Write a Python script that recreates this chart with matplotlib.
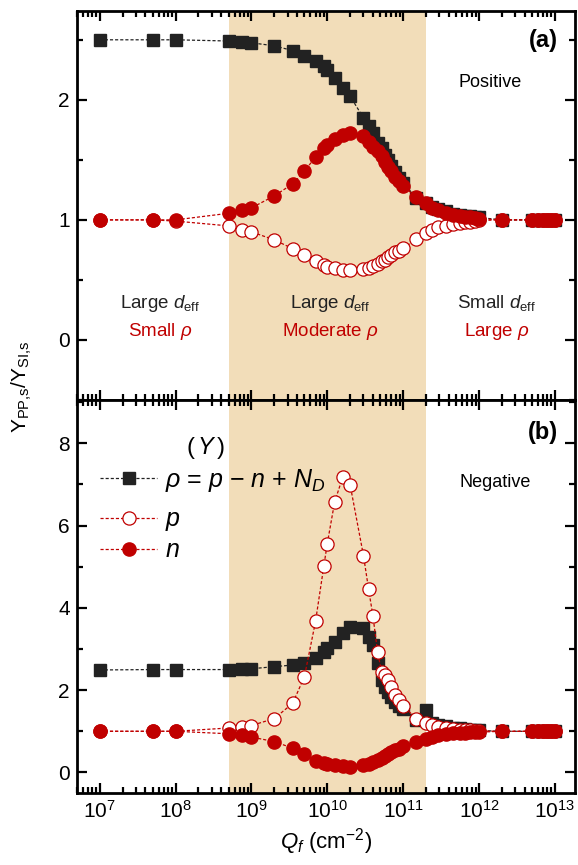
import numpy as np
import matplotlib
matplotlib.use("Agg")
import matplotlib.pyplot as plt
from matplotlib.ticker import MultipleLocator, FixedLocator, LogFormatterMathtext, NullFormatter
from matplotlib.lines import Line2D

plt.rcParams['font.family'] = ['Liberation Sans', 'DejaVu Sans']
plt.rcParams['mathtext.fontset'] = 'custom'
plt.rcParams['mathtext.rm'] = 'Liberation Sans'
plt.rcParams['mathtext.it'] = 'Liberation Sans:italic'
plt.rcParams['mathtext.bf'] = 'Liberation Sans:bold'

# fixed charge density Qf (cm^-2), shared by all series
qf = [1e7, 5e7, 1e8, 5e8, 7.5e8, 1e9, 2e9, 3.5e9, 5e9, 7e9, 9e9, 1e10, 1.25e10,
      1.6e10, 2e10, 3e10, 3.5e10, 4e10, 4.6e10, 5.2e10, 5.8e10, 6.3e10, 7e10,
      7.8e10, 8.7e10, 1e11, 1.5e11, 2e11, 2.4e11, 2.9e11, 3.7e11, 4.6e11,
      5.6e11, 6.5e11, 7.6e11, 8.9e11, 1e12, 2e12, 5e12, 6e12, 7e12, 8e12, 9e12, 1e13]
decades = [1e7, 1e8, 1e9, 1e10, 1e11, 1e12, 1e13]

# (a) positive
rho_a = [2.50, 2.50, 2.50, 2.49, 2.48, 2.475, 2.45, 2.41, 2.365, 2.32, 2.28, 2.25, 2.18,
         2.10, 2.03, 1.85, 1.78, 1.72, 1.64, 1.60, 1.54, 1.50, 1.45,
         1.40, 1.35, 1.31, 1.18, 1.14, 1.11, 1.09, 1.07, 1.05,
         1.04, 1.035, 1.03, 1.02, 1.02, 1.0, 1.0, 1.0, 1.0, 1.0, 1.0, 1.0]
p_a = [1.0, 1.0, 0.99, 0.95, 0.917, 0.90, 0.834, 0.76, 0.71, 0.655, 0.627, 0.61, 0.60,
       0.585, 0.58, 0.59, 0.60, 0.62, 0.635, 0.655, 0.67, 0.69, 0.71,
       0.73, 0.745, 0.765, 0.84, 0.89, 0.917, 0.94, 0.95, 0.964,
       0.975, 0.98, 0.983, 0.99, 0.995, 1.0, 1.0, 1.0, 1.0, 1.0, 1.0, 1.0]
n_a = [1.0, 1.0, 1.0, 1.055, 1.08, 1.10, 1.20, 1.30, 1.405, 1.525, 1.60, 1.62, 1.67,
       1.71, 1.72, 1.70, 1.65, 1.61, 1.57, 1.53, 1.48, 1.44, 1.41,
       1.36, 1.32, 1.28, 1.19, 1.14, 1.10, 1.08, 1.055, 1.04,
       1.03, 1.025, 1.02, 1.015, 1.01, 1.0, 1.0, 1.0, 1.0, 1.0, 1.0, 1.0]

# (b) negative
rho_b = [2.49, 2.50, 2.50, 2.50, 2.51, 2.52, 2.57, 2.61, 2.65, 2.77, 2.93, 3.02, 3.18,
         3.38, 3.54, 3.50, 3.30, 3.10, 2.65, 2.24, 2.08, 1.95, 1.84,
         1.72, 1.62, 1.55, 1.27, 1.51, 1.20, 1.16, 1.12, 1.09,
         1.07, 1.05, 1.04, 1.03, 1.02, 1.0, 1.0, 1.0, 1.0, 1.0, 1.0, 1.0]
p_b = [1.0, 1.0, 1.0, 1.08, 1.11, 1.14, 1.31, 1.68, 2.33, 3.67, 5.01, 5.56, 6.57,
       7.18, 6.99, 5.27, 4.46, 3.80, 2.93, 2.45, 2.37, 2.24, 2.08,
       1.89, 1.75, 1.61, 1.31, 1.21, 1.15, 1.11, 1.07, 1.05,
       1.04, 1.03, 1.02, 1.01, 1.01, 1.0, 1.0, 1.0, 1.0, 1.0, 1.0, 1.0]
n_b = [1.0, 1.0, 1.0, 0.94, 0.90, 0.86, 0.75, 0.59, 0.46, 0.29, 0.23, 0.21, 0.17,
       0.15, 0.13, 0.17, 0.21, 0.25, 0.31, 0.35, 0.41, 0.46, 0.50,
       0.54, 0.58, 0.64, 0.74, 0.82, 0.86, 0.90, 0.94, 0.95,
       0.96, 0.97, 0.975, 0.98, 0.98, 1.0, 1.0, 1.0, 1.0, 1.0, 1.0, 1.0]

BLACK = '#222222'
RED = '#C00000'
SHADE = '#F2DDB9'
dash = (0, (2.5, 1.6))

fig = plt.figure(figsize=(5.78, 8.65), dpi=100)
ax_a = fig.add_axes([0.133, 0.5376, 0.862, 0.4497])
ax_b = fig.add_axes([0.133, 0.0832, 0.862, 0.4544], sharex=ax_a)


def draw(ax, rho, p, n):
    ax.axvspan(5e8, 2e11, color=SHADE, lw=0, zorder=0)
    ax.plot(qf, rho, ls=dash, lw=0.9, color=BLACK, marker='s', ms=8.5,
            mfc=BLACK, mec=BLACK, zorder=2)
    ax.plot(qf, p, ls=dash, lw=0.9, color=RED, marker='o', ms=9.5,
            mfc='white', mec=RED, mew=0.9, zorder=3)
    ax.plot(qf, n, ls=dash, lw=0.9, color=RED, marker='o', ms=9.5,
            mfc=RED, mec=RED, zorder=4)
    ax.set_xscale('log')
    ax.set_xlim(5e6, 1.85e13)
    ax.xaxis.set_major_locator(FixedLocator(decades))
    ax.xaxis.set_major_formatter(LogFormatterMathtext())
    minors = [m * d for d in [1e6] + decades for m in range(2, 10)]
    ax.xaxis.set_minor_locator(FixedLocator(minors))
    ax.xaxis.set_minor_formatter(NullFormatter())
    ax.tick_params(which='both', direction='in', top=True, right=True,
                   width=1.6, labelsize=15, pad=5)
    ax.tick_params(which='major', length=7)
    ax.tick_params(which='minor', length=4)
    for s in ax.spines.values():
        s.set_linewidth(2.0)


draw(ax_a, rho_a, p_a, n_a)
draw(ax_b, rho_b, p_b, n_b)

ax_a.set_ylim(-0.5, 2.74)
ax_a.yaxis.set_major_locator(MultipleLocator(1))
ax_a.yaxis.set_minor_locator(MultipleLocator(0.5))
ax_a.tick_params(labelbottom=False)

ax_b.set_ylim(-0.5, 9.05)
ax_b.yaxis.set_major_locator(MultipleLocator(2))
ax_b.yaxis.set_minor_locator(MultipleLocator(1))
ax_b.set_xlabel(r'$Q_f$ (cm$^{-2}$)', fontsize=16, labelpad=3)

fig.text(0.038, 0.553, r'$\mathregular{Y_{PP{,}s}/Y_{SI{,}s}}$', rotation=90,
         fontsize=15, ha='center', va='center')

# panel (a) annotations
ax_a.text(0.965, 0.925, '(a)', transform=ax_a.transAxes, fontsize=17,
          fontweight='bold', ha='right', va='center')
ax_a.text(0.83, 0.815, 'Positive', transform=ax_a.transAxes, fontsize=13,
          ha='center', va='center')
for xc, top, bot in [(0.167, 'Large', 'Small'), (0.508, 'Large', 'Moderate'),
                     (0.843, 'Small', 'Large')]:
    ax_a.text(xc, 0.249, top + r' $d_{\rm eff}$', transform=ax_a.transAxes,
              fontsize=13.5, ha='center', va='center', color=BLACK)
    ax_a.text(xc, 0.175, bot + r' $\rho$', transform=ax_a.transAxes,
              fontsize=13.5, ha='center', va='center', color=RED)

# panel (b) annotations
ax_b.text(0.965, 0.916, '(b)', transform=ax_b.transAxes, fontsize=17,
          fontweight='bold', ha='right', va='center')
ax_b.text(0.84, 0.789, 'Negative', transform=ax_b.transAxes, fontsize=13,
          ha='center', va='center')
ax_b.text(0.257, 0.878, r'($\,Y\,$)', transform=ax_b.transAxes, fontsize=17,
          ha='center', va='center')

h_rho = Line2D([], [], ls=dash, lw=0.9, color=BLACK, marker='s', ms=8.5,
               mfc=BLACK, mec=BLACK)
h_p = Line2D([], [], ls=dash, lw=0.9, color=RED, marker='o', ms=9.5,
             mfc='white', mec=RED, mew=0.9)
h_n = Line2D([], [], ls=dash, lw=0.9, color=RED, marker='o', ms=9.5,
             mfc=RED, mec=RED)
leg_kw = dict(frameon=False, fontsize=18, handlelength=2.3, handletextpad=0.3,
              borderpad=0, borderaxespad=0, loc='center left')
leg1 = ax_b.legend([h_rho], [r'$\rho$ = $p$ $-$ $n$ + $N_D$'],
                   bbox_to_anchor=(0.046, 0.796), **leg_kw)
ax_b.add_artist(leg1)
ax_b.legend([h_p, h_n], [r'$p$', r'$n$'], bbox_to_anchor=(0.046, 0.6565),
            labelspacing=0.2, **leg_kw)

fig.savefig('out.png', dpi=100)
